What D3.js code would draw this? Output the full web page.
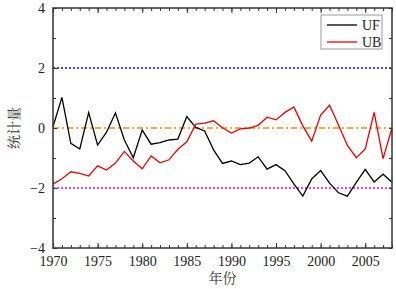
<!DOCTYPE html>
<html><head><meta charset="utf-8">
<script src="https://cdn.jsdelivr.net/npm/d3@7"></script>
<style>body{margin:0;background:#fff}svg{display:block}
.serif{font-family:"Liberation Serif","DejaVu Serif","Times New Roman",Times,serif}
.cjk{font-family:"Noto Serif CJK SC","Noto Sans CJK SC",sans-serif}</style>
</head><body>
<svg id="c" width="396" height="289"></svg>
<script>
const years = d3.range(1970, 2009);
const UF = [0.04,1.02,-0.51,-0.7,0.51,-0.57,-0.14,0.5,-0.4,-0.99,-0.07,-0.54,-0.49,-0.4,-0.37,0.38,0.02,-0.1,-0.73,-1.18,-1.1,-1.22,-1.17,-0.96,-1.37,-1.22,-1.42,-1.86,-2.27,-1.7,-1.42,-1.84,-2.16,-2.27,-1.81,-1.38,-1.8,-1.54,-1.81];
const UB = [-1.87,-1.69,-1.46,-1.51,-1.6,-1.26,-1.4,-1.17,-0.78,-1.1,-1.36,-0.93,-1.16,-1.06,-0.71,-0.46,0.13,0.16,0.24,0.01,-0.17,-0.03,0,0.09,0.36,0.27,0.52,0.7,0.07,-0.44,0.43,0.76,0.1,-0.58,-0.99,-0.7,0.52,-1.02,0];
const xTicks = [1970,1975,1980,1985,1990,1995,2000,2005];
const yTicks = [-4,-2,0,2,4];
const refLines = [{v:2,color:"#0000ff",dash:"2,2"},{v:0,color:"#ff8c00",dash:"6,3,2,3"},{v:-2,color:"#ee00ee",dash:"2,2"}];
const series = [{name:"UF",values:UF,color:"#000000"},{name:"UB",values:UB,color:"#ee0000"}];

const svg = d3.select("#c");
const L=53,R=392,T=8,B=248;
const x = d3.scaleLinear().domain([1970,2008]).range([L,R]);
const y = d3.scaleLinear().domain([-4,4]).range([B,T]);

refLines.forEach(r=>{
  svg.append("line").attr("x1",L).attr("x2",R).attr("y1",y(r.v)).attr("y2",y(r.v))
    .attr("stroke",r.color).attr("stroke-width",1.3).attr("stroke-dasharray",r.dash);
});

const line = d3.line().x((d,i)=>x(years[i])).y(d=>y(d));
series.forEach(s=>{
  svg.append("path").datum(s.values).attr("d",line).attr("fill","none")
    .attr("stroke",s.color).attr("stroke-width",1.3);
});

const minorX = d3.range(1970,2009);
const minorY = d3.range(-4,5,1);
function addAxis(axis, tr){
  const g = svg.append("g").attr("transform",tr).call(axis);
  g.attr("font-family",null).attr("font-size",null).classed("serif",true);
  g.select(".domain").remove();
  g.selectAll("line").attr("stroke","#333");
  return g;
}
addAxis(d3.axisBottom(x).tickValues(minorX).tickSize(-3).tickFormat(""),`translate(0,${B})`);
const gb = addAxis(d3.axisBottom(x).tickValues(xTicks).tickSize(-5).tickFormat(d3.format("d")).tickPadding(8),`translate(0,${B})`);
gb.selectAll("text").attr("font-size",14).attr("fill","#222");
addAxis(d3.axisTop(x).tickValues(minorX).tickSize(-3).tickFormat(""),`translate(0,${T})`);
addAxis(d3.axisTop(x).tickValues(xTicks).tickSize(-5).tickFormat(""),`translate(0,${T})`);
addAxis(d3.axisLeft(y).tickValues(minorY).tickSize(-3).tickFormat(""),`translate(${L},0)`);
const gl = addAxis(d3.axisLeft(y).tickValues(yTicks).tickSize(-4).tickFormat(d=>d<0?"\u2212"+Math.abs(d):d).tickPadding(8),`translate(${L},0)`);
gl.selectAll("text").attr("font-size",14).attr("fill","#222");
addAxis(d3.axisRight(y).tickValues(minorY).tickSize(-3).tickFormat(""),`translate(${R},0)`);

svg.append("rect").attr("x",L).attr("y",T).attr("width",R-L).attr("height",B-T)
  .attr("fill","none").attr("stroke","#333").attr("stroke-width",1.5);

svg.append("text").attr("class","cjk").attr("x",(L+R)/2).attr("y",283).attr("text-anchor","middle")
  .attr("font-size",14).attr("fill","#333").text("年份");
svg.append("text").attr("class","cjk").attr("transform",`translate(19,${(T+B)/2}) rotate(-90)`).attr("text-anchor","middle")
  .attr("font-size",14).attr("fill","#333").text("统计量");

const lg = svg.append("g");
lg.append("rect").attr("x",321).attr("y",15).attr("width",61).attr("height",34)
  .attr("fill","#fff").attr("stroke","#999").attr("stroke-width",1);
series.forEach((s,i)=>{
  const yy = 25 + i*17;
  lg.append("line").attr("x1",327).attr("x2",357).attr("y1",yy).attr("y2",yy)
    .attr("stroke",s.color).attr("stroke-width",1.3);
  lg.append("text").attr("class","serif").attr("x",362).attr("y",yy+5)
    .attr("font-size",14).attr("fill","#222").text(s.name);
});
</script>
</body></html>
